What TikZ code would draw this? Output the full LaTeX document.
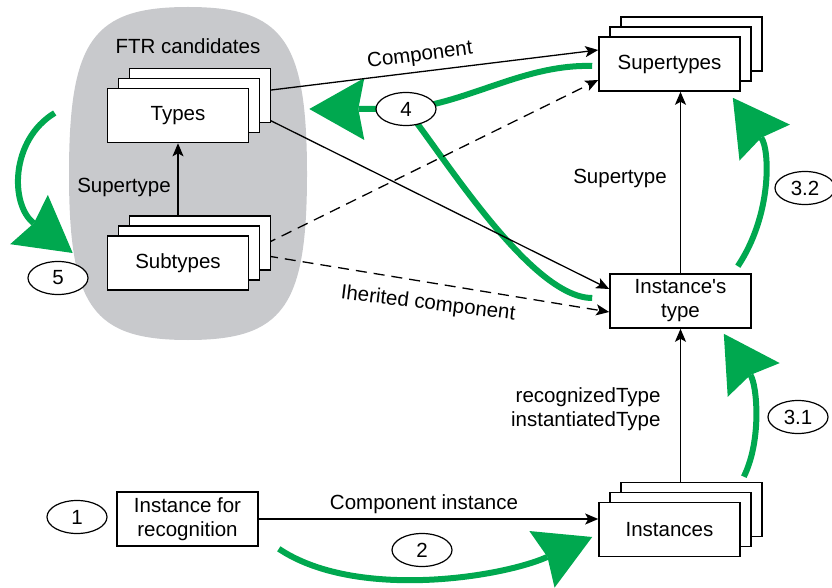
\documentclass[tikz,border=0pt]{standalone}
\usepackage{fontspec}
\setmainfont{Liberation Sans}
\usetikzlibrary{arrows.meta,shadows,backgrounds,calc,shapes.geometric}
\definecolor{ftrgray}{RGB}{200,201,204}
\definecolor{flowgreen}{RGB}{0,168,79}
\tikzset{
  box/.style={draw, line width=1.6pt, fill=white, minimum width=141pt,
    minimum height=54pt, align=center, inner sep=2pt},
  stackbox/.style={box,
    copy shadow={shadow xshift=22pt, shadow yshift=20pt, fill=white, draw=black, line width=1.6pt},
    copy shadow={shadow xshift=11pt, shadow yshift=10pt, fill=white, draw=black, line width=1.6pt}},
  stage/.style={ellipse, draw, line width=1.2pt, fill=white, minimum width=60pt,
    minimum height=33pt, inner sep=0pt},
  link/.style={line width=1.3pt, -{Stealth[length=13pt, width=11pt, inset=3pt]}},
  dlink/.style={link, dash pattern=on 11pt off 7pt},
  flowline/.style={flowgreen, line width=6pt},
  flow/.style={flowline, -{Stealth[length=55pt, width=62pt, inset=6pt, line width=0pt]}},
}
\begin{document}
\begin{tikzpicture}[x=1pt, y=-1pt, font=\fontsize{20.5}{24}\selectfont]
  \useasboundingbox (0,0) rectangle (832,588);
  % boxes
  \node[stackbox] (types) at (178,115.5) {Types};
  \node[stackbox] (subtypes) at (178,263) {Subtypes};
  \node[stackbox] (supertypes) at (669.5,64) {Supertypes};
  \node[box] (itype) at (680.5,301) {Instance\textquotesingle s\\type};
  \node[stackbox] (instances) at (669.5,529.5) {Instances};
  \node[box] (recog) at (187.5,519) {Instance for\\recognition};
  % step marks
  \node[stage] (s1) at (77,517) {1};
  \node[stage] (s2) at (422,550) {2};
  \node[stage] (s31) at (798,417) {3.1};
  \node[stage] (s32) at (805,188) {3.2};
  \node[stage] (s4) at (406,109) {4};
  \node[stage] (s5) at (58,278) {5};
  % labels
  \node (ftrlbl) at (188,46) {FTR candidates};
  \node (subsuplbl) at (124,187) {Supertype};
  \node[rotate=7.5] (complbl) at (420,56) {Component};
  \node[rotate=-7] (inhlbl) at (428,304) {Iherited component};
  \node (suplbl) at (620,178) {Supertype};
  \node[align=right, anchor=east] (typelbl) at (664,409) {recognizedType\\instantiatedType};
  \node (cilbl) at (424,504) {Component instance};
  \begin{pgfonlayer}{background}
    % FTR candidates area
    \fill[ftrgray] (188,7) .. controls (283,7) and (307,40) .. (307,174)
      .. controls (307,307) and (283,340) .. (188,340)
      .. controls (93,340) and (69,307) .. (69,174)
      .. controls (69,40) and (93,7) .. (188,7) -- cycle;
    % green flow
    \draw[flow] ($(supertypes.west)+(-6,2)$) .. controls (525,64) and (470,102) .. (s4.center)
      -- ($(types.east)+(60,-6.5)$);
    \draw[flowline] ($(itype.west)+(-17,-3)$) .. controls (530,298) and (440,150) .. (s4.center);
    \draw[flow] ($(itype.north east)+(-14,-7)$) .. controls (772,215) and (770,150)
      .. ($(supertypes.south east)+(-8,6)$);
    \draw[flow] ($(instances.north east)+(3,-25)$) .. controls (762,440) and (757,385)
      .. ($(itype.south east)+(-28,5)$);
    \draw[flow] ($(recog.south east)+(20,2)$) .. controls (355,600) and (500,578)
      .. ($(instances.west)+(-6,7.5)$);
    \draw[flow] ($(types.west)+(-52,-2.5)$) .. controls (10,140) and (10,205)
      .. ($(subtypes.west)+(-34,-10)$);
    % associations
    \draw[link] (subtypes.north) -- (types.south);
    \draw[link] ($(types.north east)+(0,5)$) -- ($(supertypes.west)+(0,-14)$);
    \draw[link] ($(types.east)+(0,-5.5)$) -- ($(itype.west)+(0,-12)$);
    \draw[dlink] ($(subtypes.east)+(0,-11)$) -- ($(supertypes.west)+(0,16)$);
    \draw[dlink] ($(subtypes.east)+(0,-10)$) -- ($(itype.west)+(0,11)$);
    \draw[link] (itype.north) -- (itype.north |- supertypes.south);
    \draw[link] (itype.south |- instances.north) -- (itype.south);
    \draw[link] (recog.east) -- (recog.east -| instances.west);
  \end{pgfonlayer}
\end{tikzpicture}
\end{document}
